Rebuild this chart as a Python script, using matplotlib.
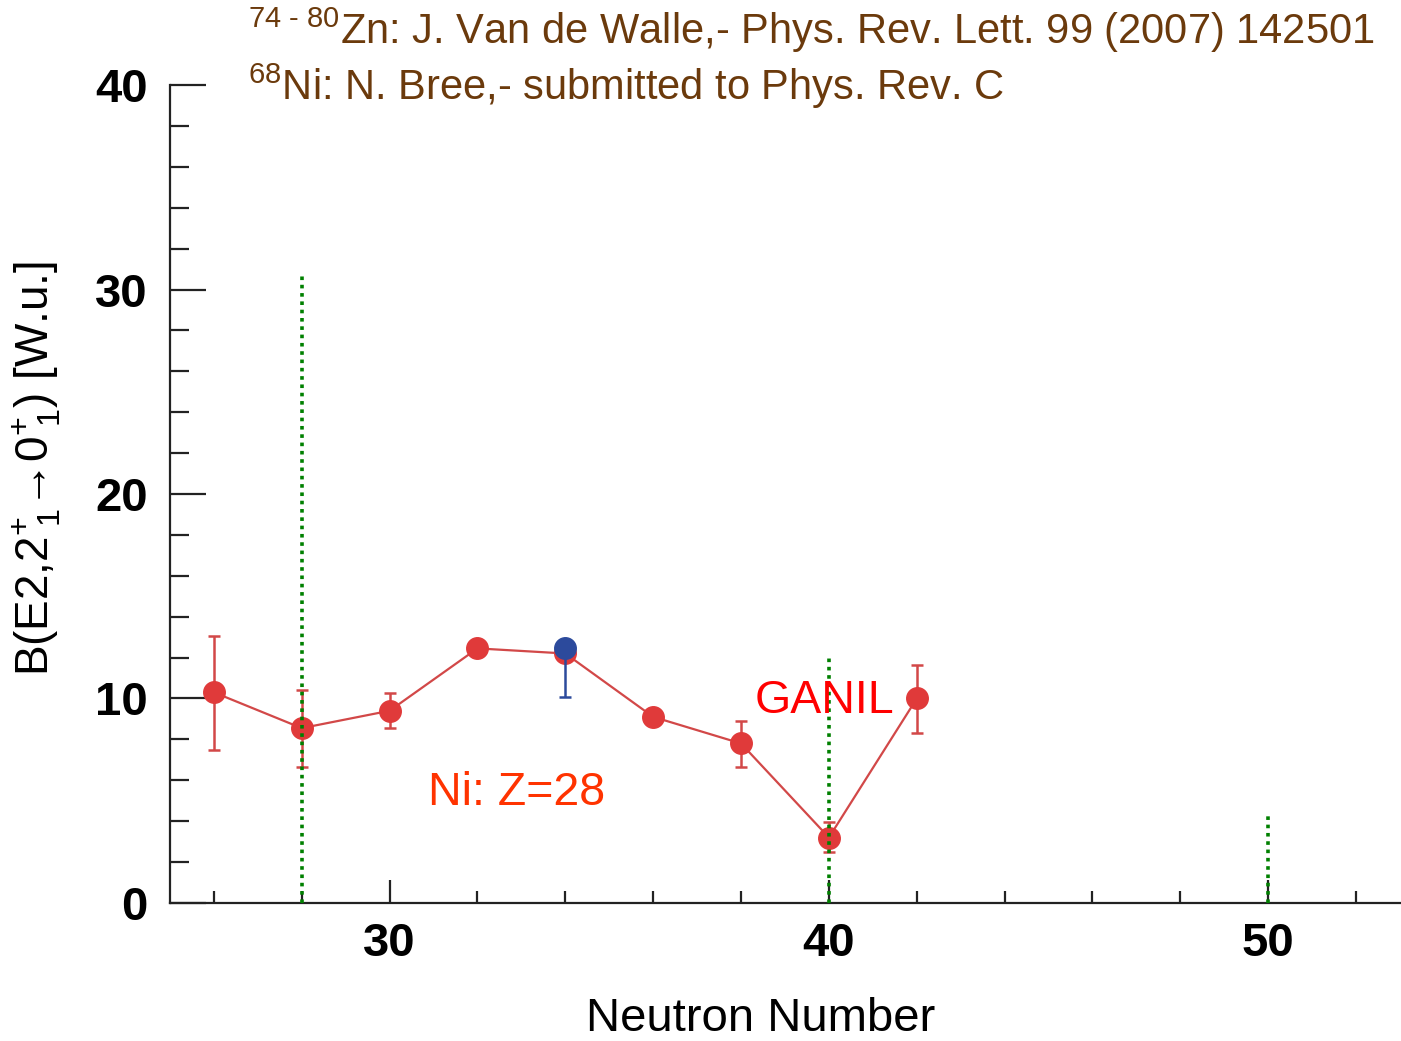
import matplotlib
matplotlib.use("Agg")
import matplotlib.pyplot as plt
from matplotlib.ticker import MultipleLocator

# B(E2) systematics for Ni isotopes
neutrons = [26, 28, 30, 32, 34, 36, 38, 40, 42]
be2 = [10.3, 8.55, 9.4, 12.45, 12.2, 9.1, 7.8, 3.2, 10.0]

err_n = [26, 28, 30, 38, 40, 42]
err_val = [10.3, 8.55, 9.4, 7.8, 3.2, 10.0]
err_low = [7.5, 6.65, 8.55, 6.65, 2.5, 8.3]
err_high = [13.05, 10.4, 10.25, 8.9, 3.95, 11.65]

blue_n = [34]
blue_val = [12.45]
blue_low = [10.05]

magic_n = [28, 40, 50]
magic_top = [30.85, 12.1, 4.45]

plt.rcParams['font.family'] = ['Liberation Sans', 'DejaVu Sans']
plt.rcParams['mathtext.fontset'] = 'custom'
plt.rcParams['mathtext.rm'] = 'Liberation Sans'
plt.rcParams['mathtext.it'] = 'Liberation Sans'

red = '#e03a3a'
fig = plt.figure(figsize=(14.01, 10.41), dpi=100)
ax = fig.add_axes([0.1213, 0.1326, 0.878, 0.7857])

for n, top in zip(magic_n, magic_top):
    ax.plot([n, n], [0, top], color='#008000', lw=2.6,
            linestyle=(0, (1, 1.3)), zorder=4)

lo = [v - l for v, l in zip(err_val, err_low)]
hi = [h - v for v, h in zip(err_val, err_high)]
ax.errorbar(err_n, err_val, yerr=[lo, hi], fmt='none', ecolor='#d24848',
            elinewidth=1.8, capsize=4, capthick=1.8, zorder=2)
ax.plot(neutrons, be2, '-o', color='#d24848', lw=1.6, markersize=15.5,
        markerfacecolor=red, markeredgecolor=red, zorder=3)

blo = [v - l for v, l in zip(blue_val, blue_low)]
ax.errorbar(blue_n, blue_val, yerr=[blo, [0]], fmt='o', color='#2c4a9c',
            markersize=15.5, elinewidth=1.8, capsize=4, capthick=1.8, zorder=3)

ax.set_xlim(25, 53)
ax.set_ylim(0, 40)
ax.spines['top'].set_visible(False)
ax.spines['right'].set_visible(False)
for s in ['left', 'bottom']:
    ax.spines[s].set_linewidth(1.6)
    ax.spines[s].set_color('#222222')

ax.xaxis.set_major_locator(MultipleLocator(10))
ax.xaxis.set_minor_locator(MultipleLocator(2))
ax.yaxis.set_major_locator(MultipleLocator(10))
ax.yaxis.set_minor_locator(MultipleLocator(2))
ax.tick_params(axis='y', which='major', direction='in', length=26, width=1.6,
               pad=16, labelsize=34, color='#222222')
ax.tick_params(axis='y', which='minor', direction='in', length=13.5, width=1.6,
               color='#222222')
ax.tick_params(axis='x', which='major', direction='in', length=16.5, width=1.6,
               pad=14, labelsize=34, color='#222222')
ax.tick_params(axis='x', which='minor', direction='in', length=8.6, width=1.6,
               color='#222222')
for lab in ax.get_xticklabels() + ax.get_yticklabels():
    lab.set_fontweight('bold')

fig.text(761 / 1401, 1 - 1019 / 1041, 'Neutron Number', fontsize=34,
         ha='center', va='center')
fig.text(37 / 1401, 1 - 468 / 1041,
         r'B(E2,2$^{+}_{\ 1}$→0$^{+}_{\ 1}$) [W.u.]',
         fontsize=33, rotation=90, ha='center', va='center')

ax.text(38.32, 9.3, 'GANIL', color='#ff0000', fontsize=33.5,
        ha='left', va='baseline', zorder=5)
ax.text(32.9, 4.8, 'Ni: Z=28', color='#ff3300', fontsize=33.5,
        ha='center', va='baseline', zorder=5)

brown = '#6b3a0c'
fig.text(248 / 1401, 1 - 44 / 1041,
         r'$^{\text{74 - 80}}$Zn: J. Van de Walle,- Phys. Rev. Lett. 99 (2007) 142501',
         color=brown, fontsize=30, ha='left', va='baseline')
fig.text(248 / 1401, 1 - 100 / 1041,
         r'$^{68}$Ni: N. Bree,- submitted to Phys. Rev. C',
         color=brown, fontsize=30, ha='left', va='baseline')

fig.savefig('out.png', dpi=100)
